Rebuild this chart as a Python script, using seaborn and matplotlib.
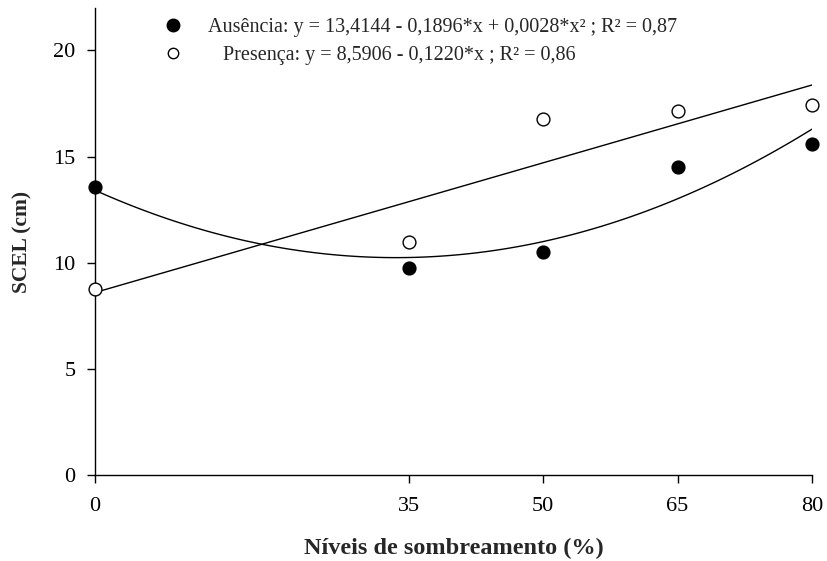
import matplotlib
matplotlib.use("Agg")
import matplotlib.pyplot as plt
import seaborn as sns
import pandas as pd
from matplotlib.lines import Line2D

# Data
niveis = [0, 35, 50, 65, 80]
ausencia = [13.58, 9.76, 10.52, 14.53, 15.57]
presenca = [8.76, 11.00, 16.78, 17.14, 17.41]
x_ticks = [0, 35, 50, 65, 80]
y_ticks = [0, 5, 10, 15, 20]
label_aus = "Ausência: y = 13,4144 - 0,1896*x + 0,0028*x² ; R² = 0,87"
label_pre = "   Presença: y = 8,5906 - 0,1220*x ; R² = 0,86"

df = pd.DataFrame({"x": niveis, "aus": ausencia, "pre": presenca})

sns.set_style("ticks")
plt.rcParams["font.family"] = ["Liberation Serif", "DejaVu Serif"]

fig = plt.figure(figsize=(8.27, 5.61), dpi=100)
ax = fig.add_axes([95 / 827, 86 / 561, 717 / 827, 467 / 561])

# fitted trend lines (fit done by seaborn on the data)
sns.regplot(data=df, x="x", y="aus", order=2, scatter=False, ci=None, truncate=True,
            line_kws=dict(color="black", lw=1.0), ax=ax)
sns.regplot(data=df, x="x", y="pre", order=1, scatter=False, ci=None, truncate=True,
            line_kws=dict(color="black", lw=1.0), ax=ax)

# points
sns.scatterplot(data=df, x="x", y="aus", color="black", edgecolor="black", s=85,
                linewidth=1.0, ax=ax, zorder=5, clip_on=False)
sns.scatterplot(data=df, x="x", y="pre", color="white", edgecolor="black", s=85,
                linewidth=1.0, ax=ax, zorder=5, clip_on=False)

ax.set_xlim(0, 80)
ax.set_ylim(0, 22)
ax.set_xticks(x_ticks)
ax.set_yticks(y_ticks)
ax.tick_params(axis="both", direction="out", length=6, width=1.0, labelsize=16,
               color="black", labelcolor="black")
ax.tick_params(axis="y", pad=8)
ax.tick_params(axis="x", pad=10)
for s in ["top", "right"]:
    ax.spines[s].set_visible(False)
for s in ["left", "bottom"]:
    ax.spines[s].set_linewidth(1.0)
    ax.spines[s].set_color("black")

ax.set_xlabel("Níveis de sombreamento (%)", fontsize=17.5, fontweight="bold", labelpad=15.5)
ax.set_ylabel("SCEL (cm)", fontsize=15.5, fontweight="bold", labelpad=15)

handles = [
    Line2D([], [], marker="o", color="black", markerfacecolor="black", markeredgecolor="black",
           markersize=9, linestyle="none"),
    Line2D([], [], marker="o", color="black", markerfacecolor="white", markeredgecolor="black",
           markersize=7.5, markeredgewidth=1.0, linestyle="none"),
]
ax.legend(handles, [label_aus, label_pre], loc="upper left",
          bbox_to_anchor=(0.095, 0.9786), frameon=False, fontsize=14.5,
          handlelength=1.0, handletextpad=1.25, labelspacing=0.45,
          borderpad=0, borderaxespad=0)

fig.savefig("out.png", dpi=100)
